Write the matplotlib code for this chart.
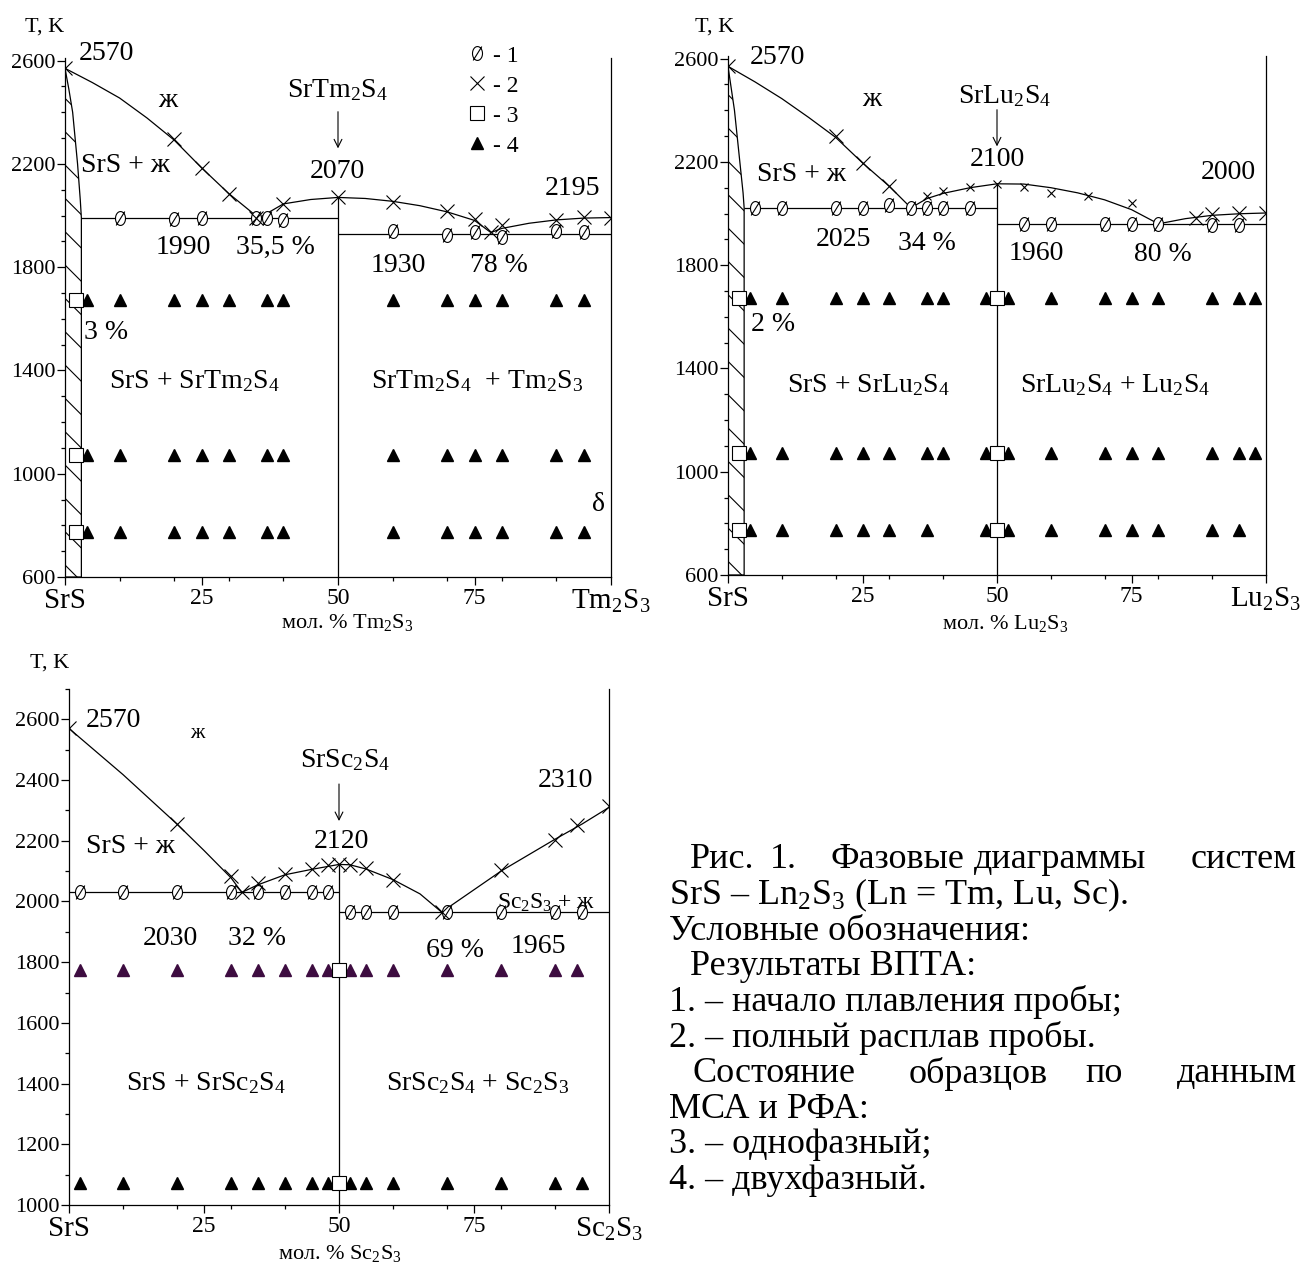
import numpy as np
import matplotlib
matplotlib.use('Agg')
import matplotlib.pyplot as plt
from matplotlib.path import Path
from matplotlib.lines import Line2D
from matplotlib.ticker import MultipleLocator, FixedLocator

plt.rcParams['font.family'] = ['Liberation Serif', 'DejaVu Serif']
plt.rcParams['mathtext.fontset'] = 'custom'
plt.rcParams['mathtext.rm'] = 'Liberation Serif'
plt.rcParams['mathtext.it'] = 'Liberation Serif:italic'
plt.rcParams['mathtext.default'] = 'rm'
plt.rcParams['hatch.linewidth'] = 0.8

# ---------------- data: SrS - Tm2S3 ----------------
tm_liq_left_x = [0, 5, 10, 15, 20, 25, 30, 35.5]
tm_liq_left_T = [2570, 2515, 2455, 2378, 2292, 2185, 2085, 1990]
tm_liq_mid_x = [35.5, 40, 45, 50, 55, 60, 65, 70, 75, 78]
tm_liq_mid_T = [1990, 2045, 2062, 2070, 2066, 2055, 2038, 2014, 1981, 1934]
tm_liq_right_x = [78, 80, 85, 90, 95, 100]
tm_liq_right_T = [1934, 1950, 1970, 1983, 1990, 1992]
tm_ss_x = [0, 0.7, 1.4, 2.3, 2.8, 3, 3]
tm_ss_T = [2570, 2490, 2400, 2200, 2060, 1990, 600]
tm_sol_left_T = 1990
tm_sol_right_T = 1930
tm_cmp_T = 2070
tm_start_x = [10, 20, 25, 35, 37, 40, 60, 70, 75, 80, 90, 95]
tm_start_T = [1990, 1988, 1990, 1990, 1990, 1983, 1939, 1926, 1936, 1917, 1939, 1936]
tm_full_x = [0, 20, 25, 30, 35, 40, 50, 60, 70, 75, 78, 80, 90, 95, 100]
tm_full_T = [2570, 2295, 2183, 2083, 1990, 2046, 2072, 2054, 2016, 1985, 1936, 1964, 1981, 1994, 1990]
tm_single_x = [2, 2, 2]
tm_single_T = [1673, 1073, 773]
tm_two_x = [4, 10, 20, 25, 30, 37, 40, 60, 70, 75, 80, 90, 95]
tm_two_T = [1673, 1073, 773]

# ---------------- data: SrS - Lu2S3 ----------------
lu_liq_left_x = [0, 5, 10, 15, 20, 25, 30, 34]
lu_liq_left_T = [2570, 2510, 2445, 2372, 2295, 2196, 2105, 2022]
lu_liq_mid_x = [34, 37, 40, 45, 50, 55, 60, 65, 70, 75, 80]
lu_liq_mid_T = [2022, 2058, 2078, 2100, 2115, 2114, 2100, 2080, 2053, 2015, 1960]
lu_liq_right_x = [80, 85, 90, 95, 100]
lu_liq_right_T = [1960, 1980, 1993, 1999, 2002]
lu_ss_x = [0, 1.2, 2.2, 2.8, 3, 3]
lu_ss_T = [2570, 2400, 2200, 2080, 2022, 600]
lu_sol_left_T = 2022
lu_sol_right_T = 1960
lu_cmp_T = 2115
lu_start_x = [5, 10, 20, 25, 30, 34, 37, 40, 45, 55, 60, 70, 75, 80, 90, 95]
lu_start_T = [2022, 2022, 2022, 2022, 2032, 2022, 2022, 2022, 2022,
              1960, 1960, 1960, 1960, 1960, 1955, 1955]
lu_full_x = [0, 20, 25, 30, 87, 90, 95, 100]
lu_full_T = [2570, 2299, 2196, 2105, 1982, 2000, 2003, 2002]
lu_full_small_x = [37, 40, 45, 50, 55, 60, 67, 75]
lu_full_small_T = [2066, 2086, 2101, 2115, 2103, 2080, 2066, 2040]
lu_single_x = [2, 2, 2, 50, 50, 50]
lu_single_T = [1673, 1073, 773, 1673, 1073, 773]
lu_two_hi_x = [4, 10, 20, 25, 30, 37, 40, 48, 52, 60, 70, 75, 80, 90, 95, 98]
lu_two_hi_T = [1673, 1073]
lu_two_lo_x = [4, 10, 20, 25, 30, 37, 48, 52, 60, 70, 75, 80, 90, 95]
lu_two_lo_T = 773

# ---------------- data: SrS - Sc2S3 ----------------
sc_liq_left_x = [0, 10, 20, 25, 30, 32]
sc_liq_left_T = [2570, 2418, 2255, 2168, 2078, 2030]
sc_liq_mid_x = [32, 35, 40, 45, 50, 52, 55, 60, 65, 69]
sc_liq_mid_T = [2030, 2055, 2088, 2106, 2122, 2121, 2107, 2072, 2025, 1965]
sc_liq_right_x = [69, 80, 90, 95, 100]
sc_liq_right_T = [1965, 2100, 2205, 2255, 2310]
sc_sol_left_T = 2030
sc_sol_right_T = 1965
sc_cmp_T = 2122
sc_start_x = [2, 10, 20, 30, 35, 40, 45, 48, 52, 55, 60, 70, 80, 90, 95]
sc_start_T = [2030] * 8 + [1965] * 7
sc_full_x = [0, 20, 30, 32, 35, 40, 45, 48, 50, 52, 55, 60, 69, 80, 90, 94, 100]
sc_full_T = [2570, 2255, 2085, 2030, 2062, 2092, 2106, 2120, 2125, 2120, 2109, 2072,
             1966, 2104, 2202, 2253, 2314]
sc_single_x = [50, 50]
sc_single_T = [1773, 1073]
sc_two_hi_x = [2, 10, 20, 30, 35, 40, 45, 48, 52, 55, 60, 70, 80, 90, 94]
sc_two_hi_T = 1773
sc_two_lo_x = [2, 10, 20, 30, 35, 40, 45, 48, 52, 55, 60, 70, 80, 90, 95]
sc_two_lo_T = 1073

# tick labels
x_ticks = [0, 25, 50, 75, 100]
tm_xlabels = ['SrS', '25', '50', '75', 'Tm$_2$S$_3$']
lu_xlabels = ['SrS', '25', '50', '75', 'Lu$_2$S$_3$']
sc_xlabels = ['SrS', '25', '50', '75', 'Sc$_2$S$_3$']
tl_yticks = [600, 1000, 1400, 1800, 2200, 2600]
sc_yticks = [1000, 1200, 1400, 1600, 1800, 2000, 2200, 2400, 2600]

caption_lines = [
    ['Рис.', '1.', 'Фазовые', 'диаграммы', 'систем'],
    'SrS – Ln$_2$S$_3$ (Ln = Tm, Lu, Sc).',
    'Условные обозначения:',
    'Результаты ВПТА:',
    '1. – начало плавления пробы;',
    '2. – полный расплав пробы.',
    ['Состояние', 'образцов', 'по', 'данным'],
    'МСА и РФА:',
    '3. – однофазный;',
    '4. – двухфазный.',
]

# ---------------- styling helpers ----------------
W, H = 1300, 1265
fig = plt.figure(figsize=(W / 100, H / 100), dpi=100)

th = np.linspace(0, 2 * np.pi, 41)
verts = [(0.72 * np.cos(t), np.sin(t)) for t in th] + [(-0.62, -1.0), (0.62, 1.0)]
codes = [Path.MOVETO] + [Path.LINETO] * 39 + [Path.CLOSEPOLY] + [Path.MOVETO, Path.LINETO]
CIRC = Path(verts, codes)

LW = 0.9
PURPLE = '#3d0c40'


def px_ax(l, r, b, t):
    return fig.add_axes([l / W, 1 - b / H, (r - l) / W, (b - t) / H])


def setup(ax, ylim, yticks, xlabels):
    ax.set_xlim(0, 100)
    ax.set_ylim(*ylim)
    ax.spines['top'].set_visible(False)
    for s in ('left', 'bottom', 'right'):
        ax.spines[s].set_linewidth(LW)
    ax.set_xticks(x_ticks)
    ax.set_xticklabels(xlabels)
    ax.xaxis.set_minor_locator(FixedLocator([10, 20, 30, 40, 60, 70, 80, 90]))
    ax.yaxis.set_major_locator(FixedLocator(yticks))
    ax.yaxis.set_minor_locator(MultipleLocator(100))
    ax.tick_params(axis='both', which='major', direction='out', length=6, width=LW)
    ax.tick_params(axis='both', which='minor', direction='out', length=3, width=LW)
    ax.tick_params(axis='y', labelsize=16, pad=1)
    ax.tick_params(axis='x', labelsize=17, pad=2)
    ax.tick_params(right=False, which='both')
    labs = ax.get_xticklabels()
    labs[0].set_fontsize(21)
    labs[-1].set_fontsize(21)


def line(ax, x, y):
    ax.plot(x, y, color='k', lw=LW, zorder=2, solid_capstyle='butt')


def markers(ax, x, y, kind, color='k', size=None):
    if kind == 'circ':
        ax.plot(x, y, ls='none', marker=CIRC, ms=size or 10, mfc='white', mec='k', mew=0.8, zorder=4)
    elif kind == 'x':
        ax.plot(x, y, ls='none', marker='x', ms=size or 10, mec='k', mew=0.8, zorder=5)
    elif kind == 'sq':
        ax.plot(x, y, ls='none', marker='s', ms=size or 10, mfc='white', mec='k', mew=0.8, zorder=6)
    elif kind == 'tri':
        ax.plot(x, y, ls='none', marker='^', ms=size or 9, mfc=color, mec=color, zorder=3)


def txt(ax, x, y, s, size=20, **kw):
    ax.text(x, y, s, ha=kw.pop('ha', 'center'), va=kw.pop('va', 'center'), fontsize=size, **kw)


def arrow(ax, x, y0, y1):
    ax.annotate('', xy=(x, y1), xytext=(x, y0),
                arrowprops=dict(arrowstyle='->', lw=0.8, color='k', shrinkA=0, shrinkB=0,
                                mutation_scale=14))


def ss_region(ax, xs, ts):
    px = list(xs) + [0]
    pt = list(ts) + [ts[-1]]
    ax.fill(px, pt, facecolor='none', edgecolor='k', hatch='\\', lw=LW, zorder=1)


# ================= Panel 1: Tm =================
ax1 = px_ax(65, 611, 577, 58)
setup(ax1, (600, 2610), tl_yticks, tm_xlabels)
ss_region(ax1, tm_ss_x, tm_ss_T)
line(ax1, tm_liq_left_x, tm_liq_left_T)
line(ax1, tm_liq_mid_x, tm_liq_mid_T)
line(ax1, tm_liq_right_x, tm_liq_right_T)
line(ax1, [tm_ss_x[-2], 50], [tm_sol_left_T] * 2)
line(ax1, [50, 100], [tm_sol_right_T] * 2)
line(ax1, [50, 50], [600, tm_cmp_T])
markers(ax1, tm_start_x, tm_start_T, 'circ')
markers(ax1, tm_full_x, tm_full_T, 'x')
for T in tm_two_T:
    markers(ax1, tm_two_x, [T] * len(tm_two_x), 'tri')
markers(ax1, tm_single_x, tm_single_T, 'sq')
arrow(ax1, 50, 2402, 2260)
txt(ax1, 7.5, 2628, '2570')
txt(ax1, 18.9, 2447, 'ж')
txt(ax1, 49.9, 2486, 'SrTm$_2$S$_4$')
txt(ax1, 49.9, 2169, '2070')
txt(ax1, 92.9, 2104, '2195')
txt(ax1, 11.0, 2195, 'SrS + ж')
txt(ax1, 21.7, 1878, '1990')
txt(ax1, 38.5, 1878, '35,5 %')
txt(ax1, 61.1, 1806, '1930')
txt(ax1, 79.4, 1806, '78 %')
txt(ax1, 7.6, 1548, '3 %')
txt(ax1, 23.6, 1360, 'SrS + SrTm$_2$S$_4$')
txt(ax1, 75.4, 1360, 'SrTm$_2$S$_4$  + Tm$_2$S$_3$')
txt(ax1, 97.7, 881, 'δ')
handles = [Line2D([], [], ls='none', marker=CIRC, ms=10, mfc='white', mec='k', mew=0.8),
           Line2D([], [], ls='none', marker='x', ms=10, mec='k', mew=0.8),
           Line2D([], [], ls='none', marker='s', ms=10, mfc='white', mec='k', mew=0.8),
           Line2D([], [], ls='none', marker='^', ms=9, mfc='k', mec='k')]
ax1.legend(handles, ['- 1', '- 2', '- 3', '- 4'], loc='upper left', bbox_to_anchor=(0.737, 1.025),
           frameon=False, fontsize=17, handlelength=0.8, handletextpad=0.3, labelspacing=0.36,
           borderpad=0, borderaxespad=0)

# ================= Panel 2: Lu =================
ax2 = px_ax(728, 1266, 575, 56)
setup(ax2, (600, 2610), tl_yticks, lu_xlabels)
ss_region(ax2, lu_ss_x, lu_ss_T)
line(ax2, lu_liq_left_x, lu_liq_left_T)
line(ax2, lu_liq_mid_x, lu_liq_mid_T)
line(ax2, lu_liq_right_x, lu_liq_right_T)
line(ax2, [lu_ss_x[-2], 50], [lu_sol_left_T] * 2)
line(ax2, [50, 100], [lu_sol_right_T] * 2)
line(ax2, [50, 50], [600, lu_cmp_T])
markers(ax2, lu_start_x, lu_start_T, 'circ')
markers(ax2, lu_full_x, lu_full_T, 'x')
markers(ax2, lu_full_small_x, lu_full_small_T, 'x', size=6)
for T in lu_two_hi_T:
    markers(ax2, lu_two_hi_x, [T] * len(lu_two_hi_x), 'tri')
markers(ax2, lu_two_lo_x, [lu_two_lo_T] * len(lu_two_lo_x), 'tri')
markers(ax2, lu_single_x, lu_single_T, 'sq')
arrow(ax2, 50, 2402, 2260)
txt(ax2, 9.1, 2603, '2570')
txt(ax2, 26.8, 2441, 'ж')
txt(ax2, 51.5, 2454, 'SrLu$_2$S$_4$')
txt(ax2, 50.0, 2208, '2100')
txt(ax2, 93.0, 2157, '2000')
txt(ax2, 13.7, 2150, 'SrS + ж')
txt(ax2, 21.4, 1898, '2025')
txt(ax2, 36.9, 1885, '34 %')
txt(ax2, 57.3, 1847, '1960')
txt(ax2, 80.8, 1840, '80 %')
txt(ax2, 8.3, 1569, '2 %')
txt(ax2, 26.1, 1336, 'SrS + SrLu$_2$S$_4$')
txt(ax2, 71.9, 1336, 'SrLu$_2$S$_4$ + Lu$_2$S$_4$')

# ================= Panel 3: Sc =================
ax3 = px_ax(69, 609, 1205, 689)
setup(ax3, (1000, 2700), sc_yticks, sc_xlabels)
line(ax3, sc_liq_left_x, sc_liq_left_T)
line(ax3, sc_liq_mid_x, sc_liq_mid_T)
line(ax3, sc_liq_right_x, sc_liq_right_T)
line(ax3, [0, 50], [sc_sol_left_T] * 2)
line(ax3, [50, 100], [sc_sol_right_T] * 2)
line(ax3, [50, 50], [1000, sc_cmp_T])
markers(ax3, sc_start_x, sc_start_T, 'circ')
markers(ax3, sc_full_x, sc_full_T, 'x')
markers(ax3, sc_two_hi_x, [sc_two_hi_T] * len(sc_two_hi_x), 'tri', color=PURPLE)
markers(ax3, sc_two_lo_x, [sc_two_lo_T] * len(sc_two_lo_x), 'tri')
markers(ax3, sc_single_x, sc_single_T, 'sq')
arrow(ax3, 50, 2387, 2265)
txt(ax3, 8.3, 2597, '2570')
txt(ax3, 23.7, 2552, 'ж', size=15)
txt(ax3, 51.1, 2464, 'SrSc$_2$S$_4$')
txt(ax3, 50.5, 2199, '2120')
txt(ax3, 91.9, 2398, '2310')
txt(ax3, 11.4, 2182, 'SrS + ж')
txt(ax3, 88.4, 1994, 'Sc$_2$S$_3$ + ж', size=17)
txt(ax3, 18.7, 1878, '2030')
txt(ax3, 34.9, 1878, '32 %')
txt(ax3, 71.5, 1840, '69 %')
txt(ax3, 86.9, 1851, '1965')
txt(ax3, 25.3, 1403, 'SrS + SrSc$_2$S$_4$')
txt(ax3, 75.7, 1403, 'SrSc$_2$S$_4$ + Sc$_2$S$_3$')

# ================= figure-level labels =================
def ftxt(x, y, s, size, ha='center', va='center'):
    fig.text(x / W, 1 - y / H, s, fontsize=size, ha=ha, va=va)

ftxt(45, 27, 'T, K', 16)
ftxt(715, 27, 'T, K', 16)
ftxt(50, 663, 'T, K', 16)
ftxt(347, 622, 'мол. % Tm$_2$S$_3$', 16)
ftxt(1005, 624, 'мол. % Lu$_2$S$_3$', 16)
ftxt(340, 1253, 'мол. % Sc$_2$S$_3$', 16)

# caption
CAP = 26
y0, dy = 860, 35.6
x_left, x_ind, x_right = 669, 690, 1297
word_x = {0: [690, 770, 831, 974], 6: [693, 909, 1085]}
for i, ln in enumerate(caption_lines):
    y = y0 + i * dy
    if isinstance(ln, list):
        for w, xx in zip(ln[:-1], word_x[i]):
            ftxt(xx, y, w, CAP, ha='left')
        ftxt(x_right, y, ln[-1], CAP, ha='right')
    else:
        xx = x_ind if i == 3 else x_left
        ftxt(xx, y, ln, CAP, ha='left')

fig.savefig('out.png', dpi=100)
